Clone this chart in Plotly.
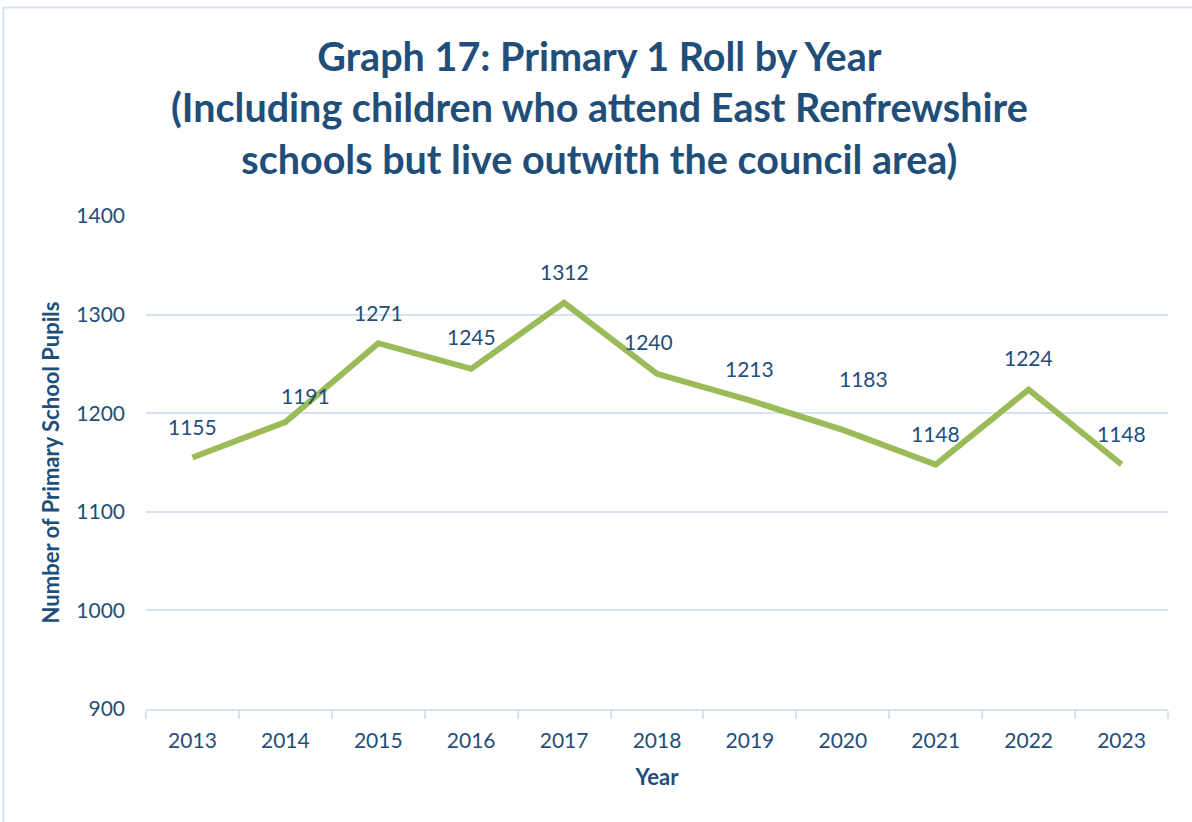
import plotly.graph_objects as go

# Primary 1 roll counts by school year
years = ["2013", "2014", "2015", "2016", "2017", "2018", "2019", "2020", "2021", "2022", "2023"]
pupils = [1155, 1191, 1271, 1245, 1312, 1240, 1213, 1183, 1148, 1224, 1148]

# label nudges (pixels) so the value text sits clear of the line
label_dx = [0, 20, 0, 0, 0, -9, 0, 21, 0, 0, 0]
label_dy = [31, 27, 31, 32, 31, 32, 32, 51, 31, 32, 31]

y_ticks = [900, 1000, 1100, 1200, 1300, 1400]

TEXT = "#1F4E79"
GRID = "#D6E2F2"
FONT = "Lato"

fig = go.Figure()
fig.add_trace(go.Scatter(
    x=years, y=pupils, mode="lines",
    line=dict(color="#9BBB59", width=6),
    hoverinfo="x+y", showlegend=False,
))

# value labels, placed by category index on the category axis
for i, (y, dx, dy) in enumerate(zip(pupils, label_dx, label_dy)):
    fig.add_annotation(
        x=i, y=y, text=str(y), showarrow=False,
        xshift=dx, yshift=dy,
        font=dict(family=FONT, size=21, color=TEXT),
    )

# chart heading
fig.add_annotation(
    xref="paper", yref="paper", x=0.444, y=1.222,
    xanchor="center", yanchor="middle", showarrow=False,
    text="<b>Graph 17: Primary 1 Roll by Year<br>(Including children who attend East Renfrewshire<br>schools but live outwith the council area)</b>",
    font=dict(family=FONT, size=39.5, color=TEXT),
)

fig.update_layout(
    width=1192, height=822,
    paper_bgcolor="white", plot_bgcolor="white",
    margin=dict(l=146, r=24, t=216, b=113),
    font=dict(family=FONT, color=TEXT),
    xaxis=dict(
        type="category", range=[-0.5, len(years) - 0.5],
        tickson="boundaries", ticks="outside", ticklen=8, tickcolor=GRID, tickwidth=2,
        showline=True, linecolor=GRID, linewidth=2,
        showgrid=False, tickangle=0, ticklabelstandoff=12,
        tickfont=dict(family=FONT, size=21, color=TEXT),
        title=dict(text="<b>Year</b>", font=dict(family=FONT, size=22, color=TEXT), standoff=18),
    ),
    yaxis=dict(
        range=[900, 1400], tickvals=y_ticks,
        showgrid=True, gridcolor=GRID, gridwidth=1.5,
        zeroline=False, showline=False, ticks="",
        ticklabelstandoff=20,
        tickfont=dict(family=FONT, size=21, color=TEXT),
        title=dict(text="<b>Number of Primary School Pupils</b>",
                   font=dict(family=FONT, size=22, color=TEXT), standoff=10),
    ),
    shapes=[dict(type="rect", xref="paper", yref="paper",
                 x0=-0.1395, x1=1.05, y0=-0.3, y1=1.423, layer="below",
                 line=dict(color="#D6E2F2", width=2))],
)

fig.write_html("out.html")
